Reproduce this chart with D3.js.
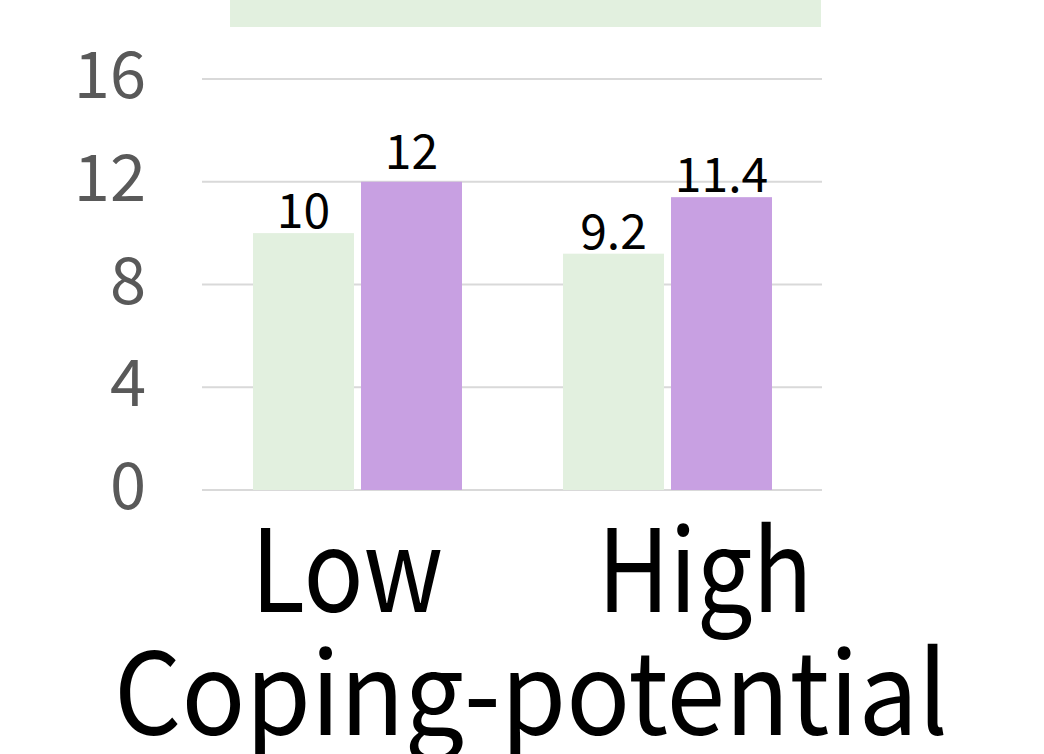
<!DOCTYPE html>
<html>
<head>
<meta charset="utf-8">
<script src="https://cdn.jsdelivr.net/npm/d3@7"></script>
<style>
  html, body { margin: 0; padding: 0; background: #fff; overflow: hidden; }
  text { font-family: "Noto Sans CJK KR", "Noto Sans", sans-serif; }
</style>
</head>
<body>
<div class="d3-chart"></div>
<script>
const categories = ["Low", "High"];
const series = ["s1", "s2"];
const valuesS1 = [10, 9.2];
const valuesS2 = [12, 11.4];
const yTicks = [0, 4, 8, 12, 16];
const axisTitle = "Coping-potential";

const colors = {s1: "#e2f0df", s2: "#c8a0e2"};
const width = 1044, height = 754;

const svg = d3.select(".d3-chart")
  .append("svg")
  .attr("width", width)
  .attr("height", height);

const x0 = d3.scaleBand().domain(categories).range([202, 822]).padding(0);
const x1 = d3.scaleBand().domain(series).range([51, 260]).paddingInner(0.065);
const y = d3.scaleLinear().domain([0, 16]).range([490, 79]);

// legend strip cut at the top
svg.append("rect")
  .attr("x", 230).attr("y", 0)
  .attr("width", 591).attr("height", 27)
  .attr("fill", colors.s1);

// gridlines
svg.append("g")
  .selectAll("line")
  .data(yTicks)
  .join("line")
  .attr("x1", 202).attr("x2", 822)
  .attr("y1", d => y(d)).attr("y2", d => y(d))
  .attr("stroke", "#d9d9d9")
  .attr("stroke-width", 2);

// y tick labels
svg.append("g")
  .selectAll("text")
  .data(yTicks)
  .join("text")
  .attr("x", 146)
  .attr("y", d => y(d) + 19)
  .attr("text-anchor", "end")
  .attr("font-size", 65)
  .attr("fill", "#595959")
  .text(d => d);

const rows = categories.map((c, i) => ({cat: c, s1: valuesS1[i], s2: valuesS2[i]}));

const group = svg.append("g")
  .selectAll("g")
  .data(rows)
  .join("g")
  .attr("transform", d => `translate(${x0(d.cat)},0)`);

const bars = group.selectAll("g")
  .data(d => series.map(s => ({key: s, value: d[s]})))
  .join("g");

bars.append("rect")
  .attr("x", d => x1(d.key))
  .attr("y", d => y(d.value))
  .attr("width", x1.bandwidth())
  .attr("height", d => y(0) - y(d.value))
  .attr("fill", d => colors[d.key]);

bars.append("text")
  .attr("x", d => x1(d.key) + x1.bandwidth() / 2)
  .attr("y", d => y(d.value) - (d.value === 12 ? 13 : 5))
  .attr("text-anchor", "middle")
  .attr("font-size", 48)
  .attr("fill", "#000")
  .text(d => d.value);

// category labels (Excel pushes them a bit apart)
const catShift = {Low: -10, High: 38};
const catWidth = {Low: 192, High: 215};
svg.append("g")
  .selectAll("text")
  .data(categories)
  .join("text")
  .attr("x", d => x0(d) + x0.bandwidth() / 2 + catShift[d])
  .attr("y", 612)
  .attr("text-anchor", "middle")
  .attr("font-size", 114)
  .attr("textLength", d => catWidth[d])
  .attr("lengthAdjust", "spacingAndGlyphs")
  .attr("fill", "#000")
  .text(d => d);

svg.append("text")
  .attr("x", 531)
  .attr("y", 735)
  .attr("text-anchor", "middle")
  .attr("font-size", 114)
  .attr("textLength", 834)
  .attr("lengthAdjust", "spacingAndGlyphs")
  .attr("fill", "#000")
  .text(axisTitle);
</script>
</body>
</html>
